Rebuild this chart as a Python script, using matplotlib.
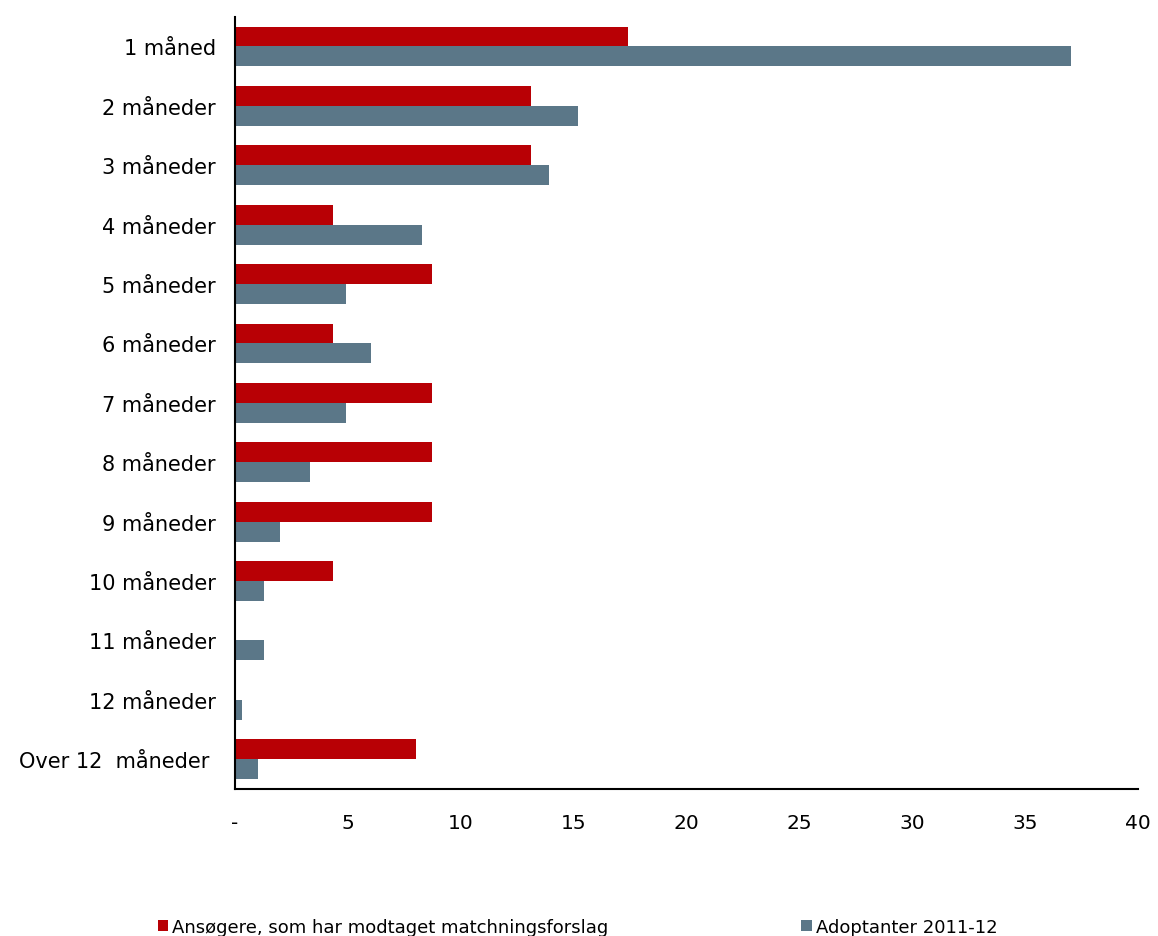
import matplotlib
matplotlib.use('Agg')
import matplotlib.pyplot as plt
import numpy as np

categories = ["1 måned", "2 måneder", "3 måneder", "4 måneder", "5 måneder",
              "6 måneder", "7 måneder", "8 måneder", "9 måneder", "10 måneder",
              "11 måneder", "12 måneder", "Over 12  måneder "]
ansoegere = [17.4, 13.1, 13.1, 4.35, 8.7, 4.35, 8.7, 8.7, 8.7, 4.35, 0, 0, 8.0]
adoptanter = [37.0, 15.2, 13.9, 8.3, 4.9, 6.0, 4.9, 3.3, 2.0, 1.3, 1.3, 0.3, 1.0]
xticks = [0, 5, 10, 15, 20, 25, 30, 35, 40]
xticklabels = ["-", "5", "10", "15", "20", "25", "30", "35", "40"]

RED = "#b80005"
GREY = "#5b7788"

fig = plt.figure(figsize=(11.58, 9.37), dpi=100)
ax = fig.add_axes([0.203, 0.157, 0.780, 0.824])

y = np.arange(len(categories))
h = 0.335
ax.barh(y - h / 2, ansoegere, height=h, color=RED,
        label="Ansøgere, som har modtaget matchningsforslag")
ax.barh(y + h / 2, adoptanter, height=h, color=GREY,
        label="Adoptanter 2011-12")

ax.set_ylim(len(categories) - 0.5, -0.5)
ax.set_xlim(0, 40)
ax.set_yticks(y)
ax.set_yticklabels(categories, fontsize=15)
ax.set_xticks(xticks)
ax.set_xticklabels(xticklabels, fontsize=14.5)
ax.tick_params(length=0)
ax.tick_params(axis='y', pad=14)
ax.tick_params(axis='x', pad=17)
for s in ["top", "right"]:
    ax.spines[s].set_visible(False)
for s in ["left", "bottom"]:
    ax.spines[s].set_linewidth(1.5)

fig.legend(loc="lower left", bbox_to_anchor=(0.122, -0.017), ncol=2,
           frameon=False, fontsize=13, handlelength=0.6, handleheight=0.6,
           handletextpad=0.2, columnspacing=10.7)

fig.savefig("out.png", dpi=100)
